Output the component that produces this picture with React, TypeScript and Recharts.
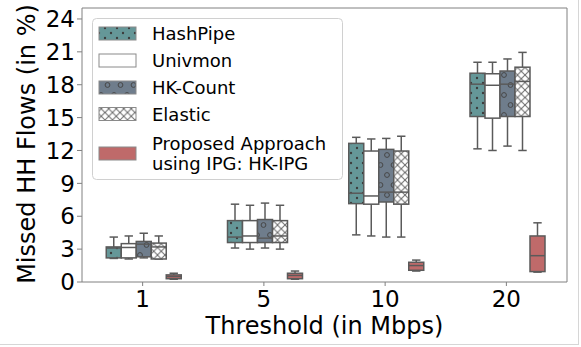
import { ComposedChart, Bar, XAxis, YAxis } from 'recharts'

const thresholds = ['1', '5', '10', '20']
// each entry: [whisker low, q1, median, q3, whisker high]
const hashPipe = [
  [2.15, 2.2, 3.1, 3.2, 4.1],
  [3.1, 3.6, 4.1, 5.6, 7.1],
  [4.3, 7.15, 8.1, 12.65, 13.2],
  [12.15, 15.1, 18.05, 19.05, 20.05],
]
const univmon = [
  [2.1, 2.2, 3.15, 3.5, 4.2],
  [3.0, 3.6, 4.2, 5.6, 7.0],
  [4.2, 7.1, 7.85, 11.95, 13.05],
  [12.0, 14.95, 17.95, 19.0, 20.05],
]
const hkCount = [
  [2.2, 2.3, 3.45, 3.7, 4.45],
  [3.1, 3.6, 4.0, 5.7, 7.2],
  [4.1, 7.3, 8.2, 12.1, 13.1],
  [12.4, 15.1, 18.05, 19.25, 20.35],
]
const elastic = [
  [2.1, 2.1, 3.2, 3.55, 4.2],
  [3.0, 3.6, 4.2, 5.6, 7.0],
  [4.1, 7.1, 8.2, 11.95, 13.3],
  [12.0, 15.1, 18.3, 19.6, 20.95],
]
const hkIpg = [
  [0.25, 0.3, 0.5, 0.65, 0.8],
  [0.25, 0.3, 0.6, 0.8, 1.0],
  [1.0, 1.07, 1.5, 1.8, 2.0],
  [0.9, 0.95, 2.4, 4.2, 5.4],
]
const yTicks = [0, 3, 6, 9, 12, 15, 18, 21, 24]

const series = [
  { key: 'hp', name: 'HashPipe', stats: hashPipe, color: '#659798', pattern: 'url(#dots)' },
  { key: 'uv', name: 'Univmon', stats: univmon, color: '#ffffff', pattern: null },
  { key: 'hk', name: 'HK-Count', stats: hkCount, color: '#6f7d8c', pattern: 'url(#rings)' },
  { key: 'el', name: 'Elastic', stats: elastic, color: '#ffffff', pattern: 'url(#xhatch)' },
  { key: 'ipg', name: 'Proposed Approach|using IPG: HK-IPG', stats: hkIpg, color: '#bf6a6a', pattern: null },
]

const data = thresholds.map((t, i) => {
  const row: any = { label: t }
  series.forEach((s) => {
    row[s.key] = [s.stats[i][0], s.stats[i][4]]
    row[s.key + 'Stats'] = s.stats[i]
  })
  return row
})

const EDGE = '#5a5a5a'
const FONT = 'DejaVu Sans'

function BoxShape(props: any) {
  const { x, y, width, height, stats, color, pattern } = props
  if (!stats) return null
  const [lo, q1, med, q3, hi] = stats
  const top = Math.min(y, y + height)
  const h = Math.abs(height)
  const py = (v: number) => top + ((hi - v) / (hi - lo)) * h
  const cx = x + width / 2
  const cap = width * 0.28
  return (
    <g>
      <line x1={cx} x2={cx} y1={py(hi)} y2={py(q3)} stroke={EDGE} strokeWidth={1.5} />
      <line x1={cx} x2={cx} y1={py(q1)} y2={py(lo)} stroke={EDGE} strokeWidth={1.5} />
      <line x1={cx - cap} x2={cx + cap} y1={py(hi)} y2={py(hi)} stroke={EDGE} strokeWidth={1.5} />
      <line x1={cx - cap} x2={cx + cap} y1={py(lo)} y2={py(lo)} stroke={EDGE} strokeWidth={1.5} />
      <rect x={x} y={py(q3)} width={width} height={py(q1) - py(q3)} fill={color} />
      {pattern && <rect x={x} y={py(q3)} width={width} height={py(q1) - py(q3)} fill={pattern} />}
      <rect x={x} y={py(q3)} width={width} height={py(q1) - py(q3)} fill="none" stroke={EDGE} strokeWidth={1.5} />
      <line x1={x} x2={x + width} y1={py(med)} y2={py(med)} stroke={EDGE} strokeWidth={1.5} />
    </g>
  )
}

function Patterns() {
  return (
    <svg width={0} height={0} style={{ position: 'absolute' }}>
      <defs>
        <pattern id="dots" patternUnits="userSpaceOnUse" width={12} height={10}>
          <circle cx={3} cy={3} r={1.2} fill="#3c3c3c" />
          <circle cx={9} cy={8} r={1.2} fill="#3c3c3c" />
        </pattern>
        <pattern id="rings" patternUnits="userSpaceOnUse" width={13} height={20}>
          <circle cx={3.5} cy={5} r={2.4} fill="none" stroke="#454545" strokeWidth={1} />
          <circle cx={10} cy={15} r={2.4} fill="none" stroke="#454545" strokeWidth={1} />
        </pattern>
        <pattern id="xhatch" patternUnits="userSpaceOnUse" width={7.5} height={7.5}>
          <path d="M0,0 L7.5,7.5 M7.5,0 L0,7.5" stroke="#6a6a6a" strokeWidth={1} />
        </pattern>
      </defs>
    </svg>
  )
}

function LegendBox() {
  const rows = [33.5, 60.5, 87.5, 114, 153.5]
  return (
    <svg width={581} height={347} style={{ position: 'absolute', left: 0, top: 0, pointerEvents: 'none' }}>
      <text
        transform="translate(35,144) rotate(-90)"
        textAnchor="middle"
        fontFamily={FONT}
        fontSize={24}
        fill="#000"
      >
        Missed HH Flows (in %)
      </text>
      <rect x={92.5} y={18.5} width={250} height={161} rx={4} fill="#fff" fillOpacity={0.85} stroke="#d0d0d0" />
      {series.map((s, i) => {
        const cy = rows[i]
        const lines = s.name.split('|')
        return (
          <g key={s.key}>
            <rect x={99} y={cy - 6.5} width={37} height={13} fill={s.color} />
            {s.pattern && <rect x={99} y={cy - 6.5} width={37} height={13} fill={s.pattern} />}
            <rect x={99} y={cy - 6.5} width={37} height={13} fill="none" stroke="#8a8a8a" strokeWidth={1} />
            {lines.map((ln, j) => (
              <text
                key={j}
                x={152}
                y={cy + 6.5 + (j - (lines.length - 1) / 2) * 20.6}
                fontFamily={FONT}
                fontSize={18}
                fill="#000"
              >
                {ln}
              </text>
            ))}
          </g>
        )
      })}
    </svg>
  )
}

export default function App() {
  return (
    <div style={{ position: 'absolute', left: 0, top: 0, width: 581, height: 347, background: '#fff' }}>
      <div
        style={{
          position: 'absolute',
          left: 0,
          top: 0,
          width: 578,
          height: 344,
          borderRight: '1px solid #d6d6d6',
          borderBottom: '1px solid #d6d6d6',
        }}
      />
      <Patterns />
      <ComposedChart
        width={581}
        height={347}
        data={data}
        margin={{ top: 7, right: 13, left: 0, bottom: 0 }}
        barCategoryGap="20%"
        barGap={0}
      >
        <XAxis
          dataKey="label"
          height={65}
          tick={{ fill: '#000', fontSize: 23, fontFamily: FONT }}
          tickSize={4}
          tickMargin={5}
          stroke="#808080"
          label={{ value: 'Threshold (in Mbps)', position: 'insideBottom', offset: 13, fill: '#000', fontSize: 24, fontFamily: FONT }}
        />
        <XAxis xAxisId="top" dataKey="label" orientation="top" height={1} tick={false} tickLine={false} stroke="#808080" />
        <YAxis
          width={82}
          domain={[0, 25]}
          ticks={yTicks}
          allowDataOverflow
          tick={{ fill: '#000', fontSize: 23, fontFamily: FONT }}
          tickSize={5}
          tickMargin={2}
          stroke="#808080"
        />
        <YAxis yAxisId="right" orientation="right" width={1} domain={[0, 25]} tick={false} tickLine={false} stroke="#808080" />
        {series.map((s) => (
          <Bar
            key={s.key}
            dataKey={s.key}
            isAnimationActive={false}
            shape={(p: any) => (
              <BoxShape {...p} stats={p.payload[s.key + 'Stats']} color={s.color} pattern={s.pattern} />
            )}
          />
        ))}
      </ComposedChart>
      <LegendBox />
    </div>
  )
}
